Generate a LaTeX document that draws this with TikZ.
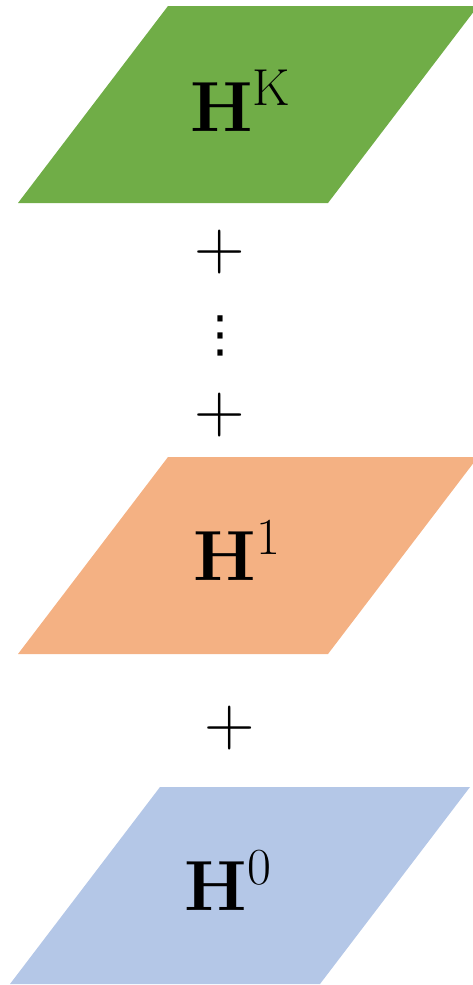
\documentclass[tikz,border=0pt]{standalone}
\usepackage{fontspec}
\usetikzlibrary{positioning}

\newfontfamily\symfont{DejaVu Sans}

\definecolor{layerK}{HTML}{70AD47}
\definecolor{layerOne}{HTML}{F4B183}
\definecolor{layerZero}{HTML}{B4C7E7}

\newcommand{\layername}[1]{\textbf{H}\raisebox{26pt}{\fontsize{52}{52}\selectfont#1}}

\tikzset{
  lbl/.style={font=\fontsize{71}{80}\selectfont, inner sep=0pt, anchor=base},
  op/.style={font=\fontsize{70}{80}\selectfont, inner sep=0pt},
}

\begin{document}
\begin{tikzpicture}[x=1pt,y=-1pt]
\useasboundingbox (0,0) rectangle (472,985);
\foreach \c/\x/\y in {layerK/168/6, layerOne/168/457, layerZero/160/787}
  \fill[\c] (\x,\y) -- ++(310,0) -- ++(-150,197) -- ++(-310,0) -- cycle;
\node[lbl] (hK) at (240,131) {\layername{K}};
\node[lbl] (hOne) at (237,580) {\layername{1}};
\node[lbl] (hZero) at (228,910) {\layername{0}};
\node[op] (plusK) at (220,252) {+};
\node[op, font=\fontsize{50}{50}\symfont] (dots) at (220,336) {⋮};
\node[op] (plusOne) at (220,415) {+};
\node[op] (plusZero) at (230,728) {+};
\end{tikzpicture}
\end{document}
